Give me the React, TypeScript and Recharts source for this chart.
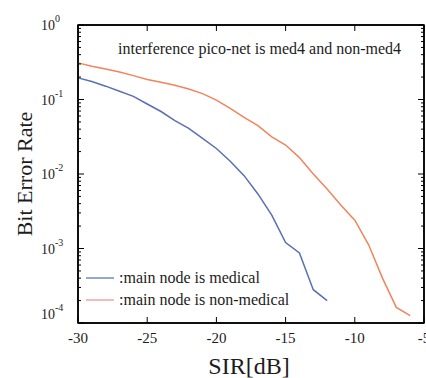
import React from "react";
import { LineChart, Line, XAxis, YAxis, Label, ReferenceArea } from "recharts";

// SIR sweep in dB
const sirDb = [-30, -29, -28, -27, -26, -25, -24, -23, -22, -21, -20, -19, -18, -17, -16, -15, -14, -13, -12, -11, -10, -9, -8, -7, -6];

// BER when the main node is medical (measured down to -12 dB)
const berMedical = [
  0.195, 0.174, 0.151, 0.129, 0.11, 0.087, 0.069, 0.052, 0.041, 0.03, 0.022, 0.0148, 0.0095, 0.0054, 0.0028, 0.0012,
  0.00087, 0.00028, 0.0002,
];

// BER when the main node is non-medical
const berNonMedical = [
  0.31, 0.28, 0.257, 0.234, 0.209, 0.186, 0.17, 0.155, 0.138, 0.12, 0.098, 0.076, 0.0575, 0.0447, 0.0316, 0.0245,
  0.0166, 0.01, 0.0063, 0.0038, 0.0024, 0.00112, 0.0004, 0.000162, 0.000126,
];

const xTicks = [-30, -25, -20, -15, -10, -5];
const decadeTicks = [1e-4, 1e-3, 1e-2, 1e-1, 1];
const decadeExponents = ["-4", "-3", "-2", "-1", "0"];

const seriesNames = [":main node is medical", ":main node is non-medical"];
const titleText = "interference pico-net is med4 and non-med4";

const BLUE = "#5a6fb4";
const ORANGE = "#f2845c";
const INK = "#000000";
const TEXT = "#1c1c1c";
const FONT = "Liberation Serif, DejaVu Serif, serif";

// default Recharts tick size (6) + tick margin (2) between axis line and tick content
const TICK_OFFSET = 8;

const data = sirDb.map((s, i) => ({
  sir: s,
  medical: i < berMedical.length ? berMedical[i] : undefined,
  nonMedical: berNonMedical[i],
}));

// log axis ticks: decades plus 2..9 minor marks
const logTicks: number[] = [];
decadeTicks.forEach((d, i) => {
  logTicks.push(d);
  if (i < decadeTicks.length - 1) {
    for (let m = 2; m <= 9; m++) logTicks.push(Number((d * m).toPrecision(3)));
  }
});

const isDecade = (v: number) => decadeTicks.some((d) => Math.abs(v / d - 1) < 1e-6);

const LeftTick = (props: any) => {
  const { x, y, payload } = props;
  const ax = x + TICK_OFFSET;
  const v = payload.value as number;
  const major = isDecade(v);
  const idx = decadeTicks.findIndex((d) => Math.abs(v / d - 1) < 1e-6);
  return (
    <g>
      <line x1={ax} x2={ax + (major ? 6 : 3)} y1={y} y2={y} stroke={INK} strokeWidth={1} />
      {major && (
        <text x={41} y={idx === 0 ? y - 4 : y + 5} fontSize={14} fontFamily={FONT} fill={TEXT}>
          10
          <tspan dy={-8} fontSize={10}>
            {decadeExponents[idx]}
          </tspan>
        </text>
      )}
    </g>
  );
};

const RightTick = (props: any) => {
  const { x, y, payload } = props;
  const ax = x - TICK_OFFSET;
  const major = isDecade(payload.value);
  return <line x1={ax} x2={ax - (major ? 6 : 3)} y1={y} y2={y} stroke={INK} strokeWidth={1} />;
};

const BottomTick = (props: any) => {
  const { x, y, payload } = props;
  const ay = y - TICK_OFFSET;
  return (
    <g>
      <line x1={x} x2={x} y1={ay} y2={ay - 6} stroke={INK} strokeWidth={1} />
      <text x={x} y={ay + 20} textAnchor="middle" fontSize={15} fontFamily={FONT} fill={TEXT}>
        {payload.value}
      </text>
    </g>
  );
};

const TopTick = (props: any) => {
  const { x, y } = props;
  const ay = y + TICK_OFFSET;
  return <line x1={x} x2={x} y1={ay} y2={ay + 6} stroke={INK} strokeWidth={1} />;
};

const LegendBox = () => (
  <div
    style={{
      position: "absolute",
      left: 84,
      top: 267,
      fontFamily: FONT,
      fontSize: 16,
      color: TEXT,
      lineHeight: "22px",
    }}
  >
    {seriesNames.map((name, i) => (
      <div key={name} style={{ display: "flex", alignItems: "center", height: 22, whiteSpace: "nowrap" }}>
        <svg width={35} height={22} style={{ display: "block" }}>
          <line x1={2} x2={30} y1={11} y2={11} stroke={i === 0 ? "#6f8cba" : "#f3a2a6"} strokeWidth={1.5} />
        </svg>
        <span>{name}</span>
      </div>
    ))}
  </div>
);

export default function App() {
  return (
    <div style={{ position: "absolute", left: 0, top: 0, width: 426, height: 378, background: "#fff" }}>
      <LineChart width={426} height={378} data={data} margin={{ top: 24, right: 1, bottom: 0, left: 0 }}>
        <XAxis
          dataKey="sir"
          type="number"
          domain={[-30, -5]}
          ticks={xTicks}
          interval={0}
          height={55}
          tick={<BottomTick />}
          tickLine={false}
          axisLine={{ stroke: INK, strokeWidth: 1.5 }}
        >
          <Label
            content={() => (
              <text x={249} y={374} textAnchor="middle" fontSize={24} fontFamily={FONT} fill={TEXT}>
                SIR[dB]
              </text>
            )}
          />
        </XAxis>
        <XAxis
          xAxisId="top"
          dataKey="sir"
          type="number"
          orientation="top"
          domain={[-30, -5]}
          ticks={xTicks}
          interval={0}
          height={1}
          tick={<TopTick />}
          tickLine={false}
          axisLine={{ stroke: INK, strokeWidth: 1.5 }}
        />
        <YAxis
          scale="log"
          domain={[1e-4, 1]}
          allowDataOverflow
          ticks={logTicks}
          interval={0}
          width={78}
          tick={<LeftTick />}
          tickLine={false}
          axisLine={{ stroke: INK, strokeWidth: 1.5 }}
        >
          <Label
            content={() => (
              <text
                x={32}
                y={174}
                transform="rotate(-90 32 174)"
                textAnchor="middle"
                fontSize={22}
                fontFamily={FONT}
                fill={TEXT}
              >
                Bit Error Rate
              </text>
            )}
          />
        </YAxis>
        <YAxis
          yAxisId="right"
          orientation="right"
          scale="log"
          domain={[1e-4, 1]}
          allowDataOverflow
          ticks={logTicks}
          interval={0}
          width={1}
          tick={<RightTick />}
          tickLine={false}
          axisLine={{ stroke: INK, strokeWidth: 1.5 }}
        />
        {/* plot frame */}
        <ReferenceArea
          x1={-30}
          x2={-5}
          y1={1e-4}
          y2={1}
          fill="none"
          stroke={INK}
          strokeWidth={1.5}
          ifOverflow="visible"
        />
        {/* invisible copy bound to the top/right axes */}
        <Line
          xAxisId="top"
          yAxisId="right"
          dataKey="nonMedical"
          stroke="none"
          dot={false}
          activeDot={false}
          legendType="none"
          isAnimationActive={false}
        />
        <Line
          dataKey="medical"
          stroke={BLUE}
          strokeWidth={1.5}
          dot={false}
          isAnimationActive={false}
          name={seriesNames[0]}
        />
        <Line
          dataKey="nonMedical"
          stroke={ORANGE}
          strokeWidth={1.5}
          dot={false}
          isAnimationActive={false}
          name={seriesNames[1]}
        />
      </LineChart>
      <div
        style={{
          position: "absolute",
          left: 118,
          top: 40,
          fontFamily: FONT,
          fontSize: 16,
          color: TEXT,
          whiteSpace: "nowrap",
        }}
      >
        {titleText}
      </div>
      <LegendBox />
    </div>
  );
}
